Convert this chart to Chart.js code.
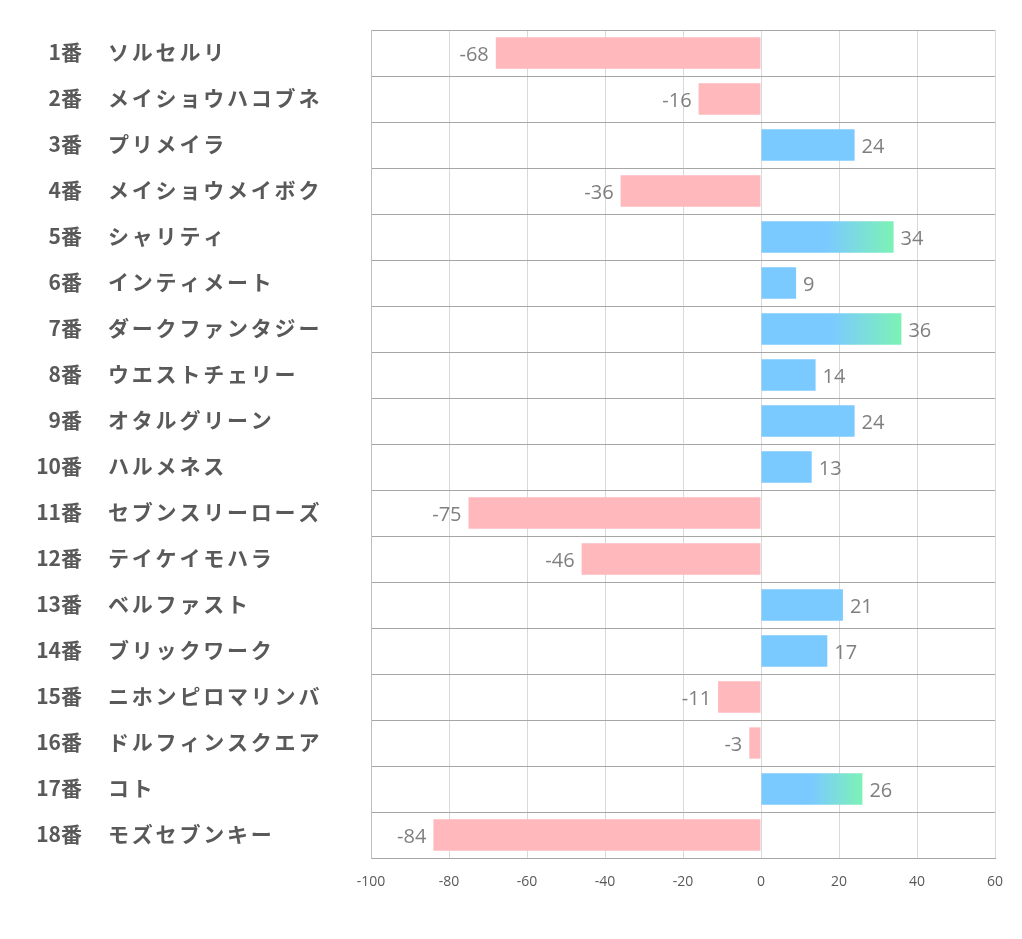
<!DOCTYPE html>
<html><head><meta charset="utf-8">
<script src="https://cdn.jsdelivr.net/npm/chart.js@4/dist/chart.umd.min.js"></script>
<style>html,body{margin:0;padding:0;background:#fff;}canvas{display:block;}</style>
</head><body>
<canvas id="c" width="1022" height="939"></canvas>
<script>
const numbers = ["1番","2番","3番","4番","5番","6番","7番","8番","9番","10番","11番","12番","13番","14番","15番","16番","17番","18番"];
const names = ["ソルセルリ","メイショウハコブネ","プリメイラ","メイショウメイボク","シャリティ","インティメート","ダークファンタジー","ウエストチェリー","オタルグリーン","ハルメネス","セブンスリーローズ","テイケイモハラ","ベルファスト","ブリックワーク","ニホンピロマリンバ","ドルフィンスクエア","コト","モズセブンキー"];
const values = [-68,-16,24,-36,34,9,36,14,24,13,-75,-46,21,17,-11,-3,26,-84];
const highlighted = [4,6,16];
const xTicks = [-100,-80,-60,-40,-20,0,20,40,60];

const PINK = '#FFB9BC', BLUE = '#7BCAFF', GREEN = '#7CF2B6';
const labelFont = 'bold 21px "Noto Sans CJK JP", "Noto Sans", sans-serif';

function barColor(ctx) {
  const i = ctx.dataIndex, v = values[i];
  if (v < 0) return PINK;
  if (!highlighted.includes(i)) return BLUE;
  const chart = ctx.chart;
  if (!chart.chartArea) return BLUE;
  const xs = chart.scales.x;
  const x0 = xs.getPixelForValue(0), x1 = xs.getPixelForValue(v);
  const g = chart.ctx.createLinearGradient(x0, 0, x1, 0);
  g.addColorStop(0, BLUE);
  g.addColorStop(0.5, BLUE);
  g.addColorStop(1, GREEN);
  return g;
}

const labelsPlugin = {
  id: 'labels',
  afterDraw(chart) {
    const c = chart.ctx, ys = chart.scales.y;
    c.save();
    c.fillStyle = '#595959';
    c.font = labelFont;
    c.textBaseline = 'middle';
    numbers.forEach((n, i) => {
      const y = ys.getPixelForValue(i) - 1;
      c.letterSpacing = '0px';
      c.textAlign = 'right';
      c.fillText(n, 82, y);
      c.textAlign = 'left';
      c.letterSpacing = '2.8px';
      c.fillText(names[i], 108, y);
    });
    c.letterSpacing = '0px';
    c.font = '20px "Open Sans", "Noto Sans", sans-serif';
    c.fillStyle = '#7F7F7F';
    const meta = chart.getDatasetMeta(0);
    meta.data.forEach((bar, i) => {
      const v = values[i];
      const y = bar.y + 2;
      if (v >= 0) { c.textAlign = 'left'; c.fillText(String(v), bar.x + 7, y); }
      else { c.textAlign = 'right'; c.fillText(String(v), bar.x - 7, y); }
    });
    c.restore();
  }
};

new Chart(document.getElementById('c'), {
  type: 'bar',
  data: {
    labels: names,
    datasets: [{
      data: values,
      backgroundColor: barColor,
      borderWidth: 0,
      barPercentage: 0.68,
      categoryPercentage: 1.0
    }]
  },
  options: {
    indexAxis: 'y',
    responsive: false,
    animation: false,
    devicePixelRatio: 1,
    layout: { padding: { top: 30, right: 27, left: 0, bottom: 0 } },
    plugins: { legend: { display: false }, tooltip: { enabled: false } },
    scales: {
      x: {
        min: -100, max: 60,
        afterBuildTicks(s) { s.ticks = xTicks.map(v => ({ value: v })); },
        afterFit(s) { s.height = 81; },
        grid: { color: '#D9D9D9', lineWidth: 1, drawTicks: false },
        border: { display: true, color: '#A6A6A6', width: 1 },
        ticks: { color: '#595959', font: { size: 14, family: '"Open Sans", "Noto Sans", sans-serif' }, padding: 16 }
      },
      y: {
        afterFit(s) { s.width = 371; },
        offset: true,
        grid: { offset: true, color: '#A6A6A6', lineWidth: 1, drawTicks: false },
        border: { display: true, color: '#BFBFBF', width: 1 },
        ticks: { display: false }
      }
    }
  },
  plugins: [labelsPlugin]
});
</script>
</body></html>
